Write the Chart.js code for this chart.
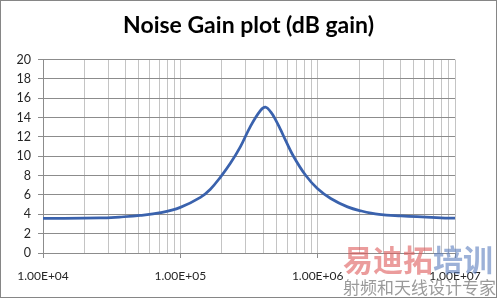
<!DOCTYPE html>
<html>
<head>
<meta charset="utf-8">
<script src="https://cdn.jsdelivr.net/npm/chart.js@4"></script>
<style>
  html, body { margin: 0; padding: 0; background: #fff; }
  canvas { display: block; }
</style>
</head>
<body>
<canvas id="chart" width="497" height="298"></canvas>
<script>
'use strict';

// frequency (Hz) and noise gain (dB)
let freqs = [1e4, 2.6e4, 3.6e4, 5.1e4, 7.2e4, 1e5, 1.4e5, 1.655e5, 1.96e5, 2.32e5, 2.74e5,
  3.24e5, 3.84e5, 4.17e5, 4.55e5, 4.93e5, 5.37e5, 5.84e5, 6.71e5, 8.17e5, 9.95e5,
  1.245e6, 1.65e6, 2.06e6, 2.8e6, 4.04e6, 7.9e6, 1e7];
let gains = [3.58, 3.62, 3.72, 3.88, 4.17, 4.72, 5.75, 6.6, 7.85, 9.3, 11.0,
  13.1, 14.75, 15.08, 14.6, 13.8, 12.75, 11.65, 9.93, 8.04, 6.67,
  5.64, 4.77, 4.36, 3.99, 3.83, 3.64, 3.6];

let decades = [1e4, 1e5, 1e6, 1e7];
let decadeLabels = ['1.00E+04', '1.00E+05', '1.00E+06', '1.00E+07'];
let yTicks = [0, 2, 4, 6, 8, 10, 12, 14, 16, 18, 20];

let points = [];
for (let i = 0; i < freqs.length; i++) {
  points.push({ x: freqs[i], y: gains[i] });
}

let xTickVals = [];
for (let d = 0; d < decades.length; d++) {
  let last = d === decades.length - 1 ? 1 : 9;
  for (let m = 1; m <= last; m++) {
    xTickVals.push(decades[d] * m);
  }
}

function isDecade(v) {
  return decades.some(d => Math.abs(v - d) < d * 1e-6);
}

const frame = {
  id: 'frame',
  afterDraw(chart) {
    let ctx = chart.ctx;
    ctx.save();
    ctx.strokeStyle = '#868686';
    ctx.lineWidth = 1;
    ctx.strokeRect(0.5, 0.5, 496, 297);

    // watermark
    ctx.font = 'bold 30px "Noto Sans CJK SC"';
    ctx.textBaseline = 'alphabetic';
    ctx.fillStyle = 'rgba(222, 90, 90, 0.6)';
    ctx.fillText('易迪拓', 343, 271);
    let w = ctx.measureText('易迪拓').width;
    ctx.fillStyle = 'rgba(90, 125, 190, 0.6)';
    ctx.fillText('培训', 343 + w, 271);
    ctx.font = '17px "Noto Sans CJK SC"';
    ctx.fillStyle = 'rgba(120, 120, 120, 0.75)';
    ctx.fillText('射频和天线设计专家', 343, 294);
    ctx.restore();
  }
};

const myChart = new Chart(document.getElementById('chart'), {
  type: 'line',
  data: {
    datasets: [{
      data: points,
      borderColor: '#3a62ad',
      borderWidth: 2.75,
      pointRadius: 0,
      fill: false,
      tension: 0.4
    }]
  },
  options: {
    responsive: false,
    animation: false,
    layout: { padding: 0 },
    plugins: {
      legend: { display: false },
      tooltip: { enabled: false },
      title: {
        display: true,
        text: 'Noise Gain plot (dB gain)',
        color: '#000',
        font: { family: 'Lato', size: 23, weight: 'bold' },
        padding: { top: 12, bottom: 20 }
      }
    },
    scales: {
      x: {
        type: 'logarithmic',
        min: 1e4,
        max: 1e7,
        afterBuildTicks(scale) {
          scale.ticks = xTickVals.map(v => ({ value: v, major: isDecade(v) }));
        },
        afterFit(scale) { scale.height = 45; },
        grid: {
          color: '#c4c4c4',
          tickLength: 5,
          tickColor: ctx => (ctx.tick && isDecade(ctx.tick.value)) ? '#8c8c8c' : 'rgba(0,0,0,0)'
        },
        border: { color: '#8c8c8c' },
        ticks: {
          autoSkip: false,
          maxRotation: 0,
          padding: 11,
          color: '#262626',
          font: { family: 'Lato', size: 12 },
          callback: function (value) {
            let i = decades.findIndex(d => Math.abs(value - d) < d * 1e-6);
            return i >= 0 ? decadeLabels[i] : '';
          }
        }
      },
      y: {
        min: 0,
        max: 20,
        afterBuildTicks(scale) {
          scale.ticks = yTicks.map(v => ({ value: v }));
        },
        afterFit(scale) { scale.width = 43; },
        grid: { color: '#8c8c8c', tickLength: 5 },
        border: { color: '#8c8c8c' },
        ticks: {
          padding: 7,
          color: '#262626',
          font: { family: 'Lato', size: 12.5 }
        }
      },
      // empty right-hand strip so the plot ends where the reference's does
      yRight: {
        position: 'right',
        afterFit(scale) { scale.width = 42; },
        grid: { display: false },
        border: { display: false },
        ticks: { display: false }
      }
    }
  },
  plugins: [frame]
});
</script>
</body>
</html>
